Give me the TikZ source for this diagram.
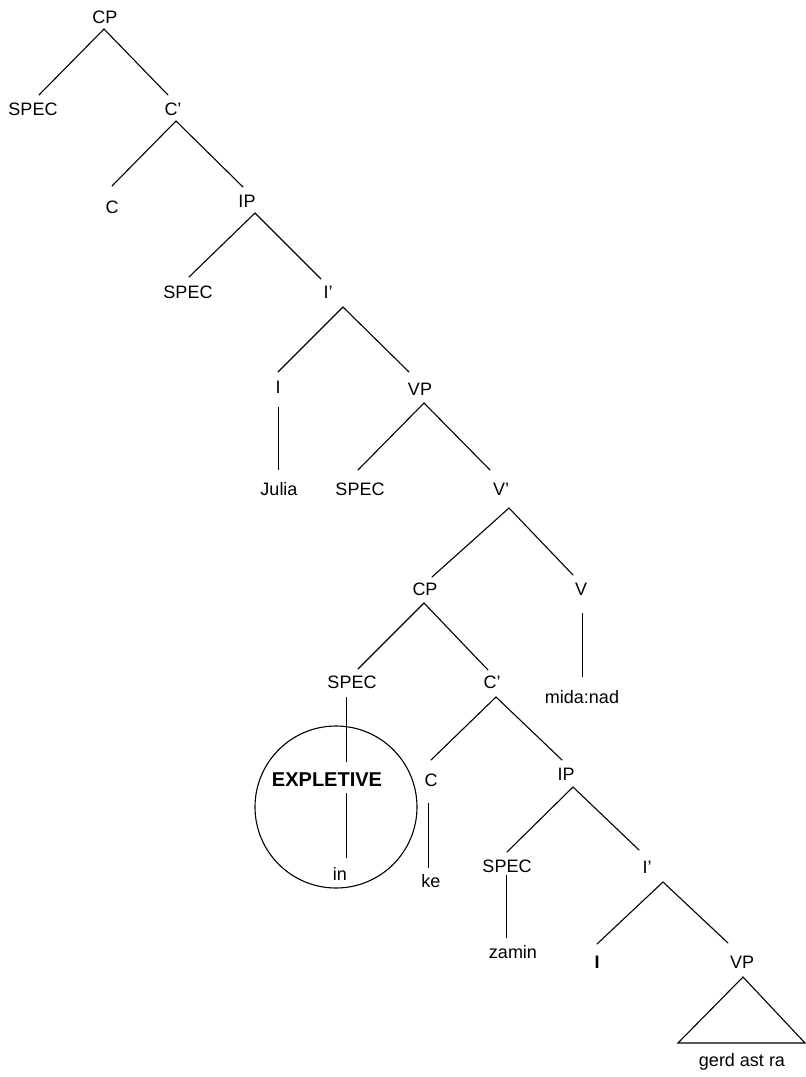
\documentclass[tikz,border=0pt]{standalone}
\usepackage{fontspec}
\setmainfont{Liberation Sans}
\begin{document}
\begin{tikzpicture}[x=1pt,y=-1pt,
  lbl/.style={anchor=base,inner sep=0pt,font=\fontsize{18}{22}\selectfont},
  blbl/.style={anchor=base,inner sep=0pt,font=\fontsize{20}{24}\selectfont\bfseries},
  br/.style={line width=1.1pt,line cap=round},
  vbr/.style={line width=1.35pt,line cap=butt}]
\useasboundingbox (0,0) rectangle (806,1077);
% nodes
\node[lbl] (cp)    at (105,23)  {CP};
\node[lbl] (spec1) at (33,115)  {SPEC};
\node[lbl] (cb1)   at (173,115) {C’};
\node[lbl] (c1)    at (112,213) {C};
\node[lbl] (ip1)   at (247,207) {IP};
\node[lbl] (spec2) at (188,298) {SPEC};
\node[lbl] (ib1)   at (328,298) {I’};
\node[lbl] (i1)    at (278,393) {I};
\node[lbl] (vp1)   at (420,395) {VP};
\node[lbl] (julia) at (279,495) {Julia};
\node[lbl] (spec3) at (360,495) {SPEC};
\node[lbl] (vb)    at (501,495) {V’};
\node[lbl] (cp2)   at (425,595) {CP};
\node[lbl] (v)     at (581,595) {V};
\node[lbl] (spec4) at (352,688) {SPEC};
\node[lbl] (cb2)   at (492,688) {C’};
\node[lbl] (mida)  at (582,703) {mida:nad};
\node[blbl] (expl) at (327,786) {EXPLETIVE};
\node[lbl] (c3)    at (431,786) {C};
\node[lbl] (ip2)   at (566,780) {IP};
\node[lbl] (in)    at (340,880) {in};
\node[lbl] (ke)    at (431,887) {ke};
\node[lbl] (spec5) at (507,872) {SPEC};
\node[lbl] (ib2)   at (647,873) {I’};
\node[lbl] (zamin) at (513,958) {zamin};
\node[lbl,font=\fontsize{18}{22}\selectfont\bfseries] (i2) at (597,968) {I};
\node[lbl] (vp2)   at (742,968) {VP};
\node[lbl] (gerd)  at (742,1066) {gerd ast ra};
\node[circle,draw,line width=1.1pt,minimum size=162pt,inner sep=0pt] (circ) at (336,807) {};
% branches
\draw[br] ([shift={(-1,6)}]cp.base) -- ([shift={(6,-20)}]spec1.base);
\draw[br] ([shift={(-1,6)}]cp.base) -- ([shift={(-5,-20)}]cb1.base);
\draw[br] ([shift={(3,6)}]cb1.base) -- ([shift={(0,-27)}]c1.base);
\draw[br] ([shift={(3,6)}]cb1.base) -- ([shift={(-4,-20)}]ip1.base);
\draw[br] ([shift={(8,6)}]ip1.base) -- ([shift={(1,-21)}]spec2.base);
\draw[br] ([shift={(8,6)}]ip1.base) -- ([shift={(-7,-19)}]ib1.base);
\draw[br] ([shift={(15,9)}]ib1.base) -- ([shift={(0,-21)}]i1.base);
\draw[br] ([shift={(15,9)}]ib1.base) -- ([shift={(-11,-23)}]vp1.base);
\draw[vbr] ([shift={(0.5,14)}]i1.base) -- ([shift={(-0.5,-25)}]julia.base);
\draw[br] ([shift={(4,8)}]vp1.base) -- ([shift={(-2,-25)}]spec3.base);
\draw[br] ([shift={(4,8)}]vp1.base) -- ([shift={(-11,-25)}]vb.base);
\draw[br] ([shift={(8,13)}]vb.base) -- ([shift={(7,-18)}]cp2.base);
\draw[br] ([shift={(8,13)}]vb.base) -- ([shift={(-8,-20)}]v.base);
\draw[vbr] ([shift={(1.5,18)}]v.base) -- ([shift={(0.5,-26)}]mida.base);
\draw[br] ([shift={(-1,8)}]cp2.base) -- ([shift={(6,-19)}]spec4.base);
\draw[br] ([shift={(-1,8)}]cp2.base) -- ([shift={(-4,-18)}]cb2.base);
\draw[vbr] ([shift={(-5.5,9)}]spec4.base) -- ([shift={(19.5,-24)}]expl.base);
\draw[vbr] ([shift={(19.5,7)}]expl.base) -- ([shift={(6.5,-22)}]in.base);
\draw[br] ([shift={(4,9)}]cb2.base) -- ([shift={(0,-26)}]c3.base);
\draw[br] ([shift={(4,9)}]cb2.base) -- ([shift={(-4,-20)}]ip2.base);
\draw[vbr] ([shift={(-2.5,17)}]c3.base) -- ([shift={(-2.5,-19)}]ke.base);
\draw[br] ([shift={(7,7)}]ip2.base) -- ([shift={(0,-20)}]spec5.base);
\draw[br] ([shift={(7,7)}]ip2.base) -- ([shift={(-8,-23)}]ib2.base);
\draw[vbr] ([shift={(-0.5,3)}]spec5.base) -- ([shift={(-6.5,-20)}]zamin.base);
\draw[br] ([shift={(16,9)}]ib2.base) -- ([shift={(0,-24)}]i2.base);
\draw[br] ([shift={(16,9)}]ib2.base) -- ([shift={(-14,-25)}]vp2.base);
\draw[br,line join=miter] ([shift={(1,9)}]vp2.base) -- ([shift={(-64,-23)}]gerd.base) -- ([shift={(63,-23)}]gerd.base) -- cycle;
\end{tikzpicture}
\end{document}
